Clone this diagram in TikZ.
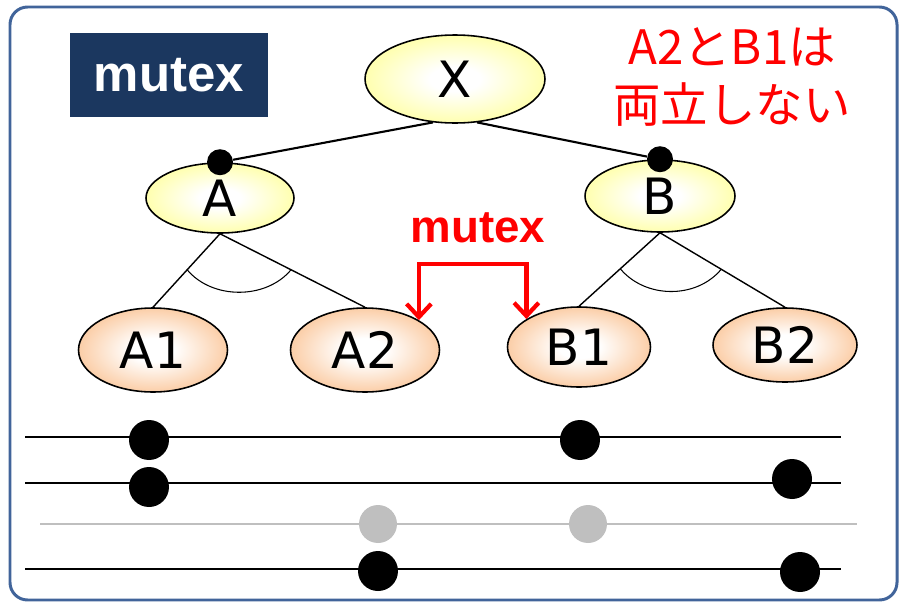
\documentclass[tikz,border=0pt]{standalone}
\usepackage{fontspec}
\setmainfont{DejaVu Sans}
\newfontfamily\arialfont{Liberation Sans}
\newfontfamily\jpfont{Noto Sans CJK JP}
\usetikzlibrary{shapes.geometric,arrows.meta}

\definecolor{framecol}{HTML}{41649A}
\definecolor{navy}{HTML}{1B375F}
\definecolor{topfill}{HTML}{FFFF99}
\definecolor{leaffill}{HTML}{FAC08F}
\definecolor{rowgray}{HTML}{BFBFBF}

\pgfdeclareradialshading{yellowegg}{\pgfpoint{0bp}{0bp}}{color(0bp)=(white); color(7bp)=(white); color(30bp)=(topfill); color(100bp)=(topfill)}
\pgfdeclareradialshading{orangeegg}{\pgfpoint{0bp}{0bp}}{color(0bp)=(white); color(7bp)=(white); color(30bp)=(leaffill); color(100bp)=(leaffill)}

\tikzset{
	egg/.style={draw,ellipse,line width=0.9pt,inner sep=0pt,font=\fontsize{28.5}{30}\selectfont},
	topnode/.style={egg,shading=yellowegg},
	leaf/.style={egg,shading=orangeegg,minimum width=2.98cm,minimum height=1.68cm},
	knot/.style={circle,fill=black,inner sep=0pt,minimum size=0.52cm},
	branch/.style={line width=1.2pt},
	twig/.style={line width=0.8pt},
	row/.style={line width=1pt},
	bigdot/.style={circle,fill=black,inner sep=0pt,minimum size=0.8cm},
	greydot/.style={circle,fill=rowgray,inner sep=0pt,minimum size=0.76cm},
	mutexarrow/.style={red,line width=2.4pt,line join=miter,>={Straight Barb[length=7.5pt,width=14pt]},<->}
}

\begin{document}
\begin{tikzpicture}[x=0.02cm,y=-0.02cm]
		\useasboundingbox (0,0) rectangle (900,602);
		\draw[framecol,line width=1.7pt,rounded corners=10pt] (10,7) rectangle (897,600);

		\node[fill=navy,text=white,minimum width=3.96cm,minimum height=1.7cm,font=\arialfont\bfseries\fontsize{29}{30}\selectfont] (title) at (169,75) {mutex};
		\node[text=red,align=center,font=\jpfont\fontsize{27}{33}\selectfont] (note) at (732,77) {A2とB1は\\両立しない};

		\node[topnode,minimum width=3.6cm,minimum height=1.76cm] (X) at (455,79) {X};
		\node[topnode,minimum width=2.96cm,minimum height=1.4cm] (A) at (220,198) {A};
		\node[topnode,minimum width=3cm,minimum height=1.44cm] (B) at (660,196) {B};
		\node[knot] (dA) at (A.north) {};
		\node[knot] (dB) at (B.north) {};
		\draw[branch] (X.243) -- (dA);
		\draw[branch] (X.297) -- (dB);

		\node[leaf] (A1) at (153,350) {A1};
		\node[leaf] (A2) at (365,350) {A2};
		\node[leaf,minimum width=2.86cm,minimum height=1.6cm] (B1) at (579,347) {B1};
		\node[leaf,minimum width=2.88cm,minimum height=1.48cm] (B2) at (785,345) {B2};

		\draw[twig] (A.south) -- coordinate[pos=0.49] (a1) (A1.north);
		\draw[twig] (A.south) -- coordinate[pos=0.49] (a2) (A2.north);
		\draw[twig] (B.south) -- coordinate[pos=0.49] (b1) (B1.north);
		\draw[twig] (B.south) -- coordinate[pos=0.49] (b2) (B2.north);
		\draw[line width=0.6pt] (a1) .. controls +(25,30) and +(-25,30) .. (a2);
		\draw[line width=0.6pt] (b1) .. controls +(25,30) and +(-25,30) .. (b2);

		\node[text=red,font=\arialfont\bfseries\fontsize{26}{28}\selectfont] (mlabel) at (478,228) {mutex};
		\coordinate (mtop) at (478,264);
		\draw[mutexarrow] (A2.29) |- (mtop) -| (B1.152);

		\draw[row] (25,437) -- (841,437);
		\node[bigdot] (r1a) at (149,440) {};
		\node[bigdot] (r1b) at (580,440) {};
		\draw[row] (25,483) -- (841,483);
		\node[bigdot] (r2a) at (149,487) {};
		\node[bigdot] (r2b) at (792,479) {};
		\draw[row,rowgray] (40,524) -- (857,524);
		\node[greydot] (r3a) at (378,524) {};
		\node[greydot] (r3b) at (588,524) {};
		\draw[row] (25,569) -- (841,569);
		\node[bigdot] (r4a) at (378,571) {};
		\node[bigdot] (r4b) at (800,572) {};
	\end{tikzpicture}
\end{document}
